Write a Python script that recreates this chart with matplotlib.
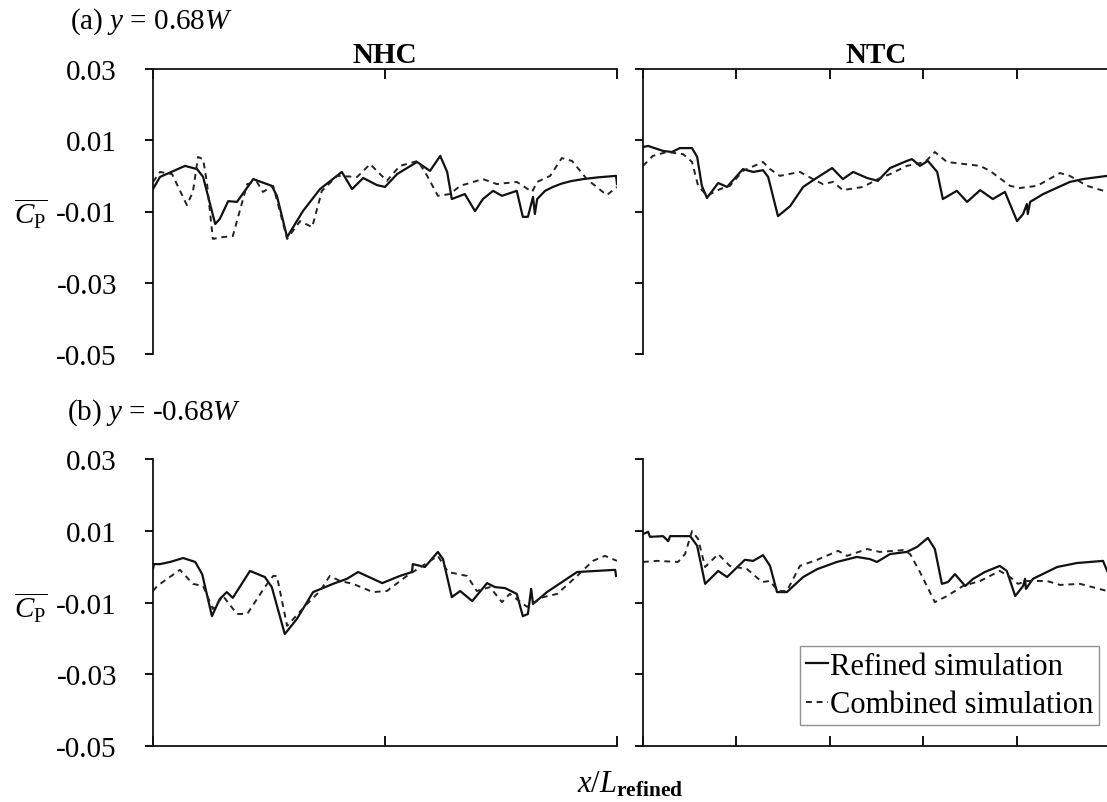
import matplotlib
matplotlib.use("Agg")
import matplotlib.pyplot as plt

plt.rcParams['font.family'] = ['Liberation Serif', 'DejaVu Serif']
plt.rcParams['mathtext.fontset'] = 'custom'
plt.rcParams['mathtext.rm'] = 'Liberation Serif'
plt.rcParams['mathtext.it'] = 'Liberation Serif:italic'
plt.rcParams['mathtext.bf'] = 'Liberation Serif:bold'
plt.rcParams['axes.unicode_minus'] = False

# ---- data (x/L, mean Cp) ----
# (a) y = 0.68W, NHC
a_nhc_ref_x = [0.0, 0.015, 0.069, 0.095, 0.108, 0.134, 0.144, 0.162, 0.181, 0.216, 0.256, 0.267, 0.289,
               0.323, 0.360, 0.407, 0.429, 0.453, 0.483, 0.500, 0.526, 0.569, 0.597, 0.619, 0.634, 0.644,
               0.672, 0.694, 0.711, 0.733, 0.752, 0.784, 0.797, 0.808, 0.819, 0.823, 0.828, 0.845, 0.862,
               0.88, 0.9, 0.927, 0.96, 0.998, 1.0]
a_nhc_ref_y = [-0.0037, -0.0003, 0.0028, 0.0019, -0.0003, -0.0135, -0.0121, -0.0071, -0.0073, -0.0009,
               -0.0028, -0.0056, -0.0172, -0.0099, -0.0037, 0.0011, -0.0037, -0.0006, -0.0026, -0.0031,
               0.0005, 0.0039, 0.0014, 0.0056, 0.0011, -0.0065, -0.0051, -0.0099, -0.0065, -0.0042,
               -0.0056, -0.0042, -0.0115, -0.0115, -0.0059, -0.0107, -0.0065, -0.0042, -0.0031, -0.0022,
               -0.0015, -0.0009, -0.0004, 0.0000, -0.0023]
a_nhc_com_x = [0.0, 0.015, 0.041, 0.073, 0.086, 0.097, 0.108, 0.116, 0.129, 0.149, 0.172, 0.203, 0.224,
               0.237, 0.259, 0.289, 0.317, 0.343, 0.364, 0.397, 0.440, 0.468, 0.504, 0.532, 0.571, 0.591,
               0.614, 0.640, 0.662, 0.711, 0.741, 0.784, 0.817, 0.828, 0.856, 0.881, 0.903, 0.935, 0.978, 1.0]
a_nhc_com_y = [-0.0017, 0.0011, 0.0005, -0.0082, -0.0045, 0.0053, 0.0047, -0.0017, -0.0177, -0.0172,
               -0.0169, -0.0023, -0.0017, -0.0045, -0.0028, -0.0177, -0.0127, -0.0144, -0.0042, 0.0000,
               -0.0003, 0.0033, -0.0014, 0.0028, 0.0042, 0.0000, -0.0056, -0.0051, -0.0028, -0.0009,
               -0.0023, -0.0017, -0.0045, -0.0017, 0.0000, 0.0050, 0.0042, -0.0009, -0.0054, -0.0031]

# (a) y = 0.68W, NTC
a_ntc_ref_x = [0.0, 0.011, 0.043, 0.062, 0.079, 0.105, 0.116, 0.126, 0.137, 0.161, 0.180, 0.214, 0.236,
               0.257, 0.268, 0.289, 0.315, 0.343, 0.368, 0.405, 0.428, 0.450, 0.480, 0.503, 0.529, 0.565,
               0.576, 0.593, 0.610, 0.630, 0.642, 0.672, 0.694, 0.722, 0.749, 0.775, 0.801, 0.814, 0.822,
               0.824, 0.829, 0.857, 0.914, 0.942, 0.994]
a_ntc_ref_y = [0.0081, 0.0084, 0.0070, 0.0067, 0.0078, 0.0078, 0.0053, -0.0028, -0.0062, -0.0020,
               -0.0031, 0.0019, 0.0011, 0.0016, -0.0003, -0.0113, -0.0085, -0.0031, -0.0009, 0.0022,
               -0.0009, 0.0011, -0.0006, -0.0014, 0.0022, 0.0042, 0.0047, 0.0028, 0.0042, 0.0011,
               -0.0065, -0.0042, -0.0073, -0.0040, -0.0065, -0.0045, -0.0127, -0.0107, -0.0079,
               -0.0107, -0.0073, -0.0051, -0.0017, -0.0009, 0.0000]
a_ntc_com_x = [0.0, 0.021, 0.051, 0.086, 0.105, 0.118, 0.137, 0.165, 0.186, 0.214, 0.257, 0.272, 0.293,
               0.336, 0.364, 0.385, 0.407, 0.428, 0.471, 0.503, 0.529, 0.565, 0.604, 0.625, 0.651, 0.722,
               0.743, 0.786, 0.807, 0.844, 0.893, 0.914, 0.951, 0.994]
a_ntc_com_y = [0.0028, 0.0056, 0.0067, 0.0061, 0.0039, -0.0028, -0.0056, -0.0037, -0.0028, 0.0014,
               0.0039, 0.0019, 0.0000, 0.0011, -0.0009, -0.0023, -0.0017, -0.0040, -0.0031, -0.0009,
               0.0005, 0.0028, 0.0039, 0.0067, 0.0039, 0.0028, 0.0014, -0.0028, -0.0034, -0.0028,
               0.0008, 0.0000, -0.0028, -0.0045]

# (b) y = -0.68W, NHC
b_nhc_ref_x = [0.0, 0.002, 0.015, 0.037, 0.065, 0.091, 0.106, 0.127, 0.144, 0.159, 0.172, 0.209, 0.241,
               0.256, 0.284, 0.310, 0.345, 0.388, 0.418, 0.442, 0.494, 0.532, 0.558, 0.560, 0.586, 0.614,
               0.625, 0.644, 0.662, 0.688, 0.720, 0.737, 0.759, 0.784, 0.797, 0.808, 0.815, 0.819, 0.849,
               0.914, 0.996, 0.998]
b_nhc_ref_y = [-0.0007, 0.0007, 0.0007, 0.0013, 0.0024, 0.0013, -0.0021, -0.0138, -0.0090, -0.0071,
               -0.0087, -0.0012, -0.0029, -0.0057, -0.0188, -0.0146, -0.0071, -0.0048, -0.0034, -0.0015,
               -0.0046, -0.0026, -0.0015, 0.0007, -0.0001, 0.0041, 0.0021, -0.0085, -0.0068, -0.0096,
               -0.0046, -0.0057, -0.0060, -0.0076, -0.0138, -0.0132, -0.0062, -0.0104, -0.0071, -0.0015,
               -0.0009, -0.0026]
b_nhc_com_x = [0.0, 0.009, 0.058, 0.086, 0.108, 0.129, 0.151, 0.181, 0.203, 0.241, 0.259, 0.267, 0.289,
               0.332, 0.360, 0.381, 0.403, 0.431, 0.474, 0.504, 0.547, 0.614, 0.636, 0.677, 0.698, 0.726,
               0.752, 0.769, 0.806, 0.841, 0.871, 0.914, 0.948, 0.974, 1.0]
b_nhc_com_y = [-0.0068, -0.0054, -0.0009, -0.0048, -0.0054, -0.0118, -0.0082, -0.0132, -0.0132, -0.0057,
               -0.0026, -0.0026, -0.0165, -0.0104, -0.0068, -0.0026, -0.0040, -0.0048, -0.0071, -0.0068,
               -0.0026, 0.0030, -0.0015, -0.0026, -0.0068, -0.0057, -0.0099, -0.0076, -0.0112, -0.0085,
               -0.0076, -0.0026, 0.0016, 0.0030, 0.0016]

# (b) y = -0.68W, NTC
b_ntc_ref_x = [0.0, 0.011, 0.015, 0.043, 0.054, 0.058, 0.101, 0.116, 0.133, 0.161, 0.180, 0.218, 0.236,
               0.257, 0.272, 0.287, 0.308, 0.343, 0.373, 0.415, 0.458, 0.486, 0.501, 0.529, 0.565, 0.587,
               0.610, 0.625, 0.640, 0.653, 0.668, 0.690, 0.707, 0.732, 0.764, 0.779, 0.797, 0.814, 0.818,
               0.820, 0.835, 0.887, 0.929, 0.985, 0.994]
b_ntc_ref_y = [0.0091, 0.0097, 0.0083, 0.0085, 0.0071, 0.0085, 0.0085, 0.0058, -0.0048, -0.0012,
               -0.0029, 0.0019, 0.0016, 0.0032, 0.0002, -0.0071, -0.0071, -0.0029, -0.0007, 0.0013,
               0.0027, 0.0021, 0.0013, 0.0035, 0.0041, 0.0055, 0.0080, 0.0049, -0.0048, -0.0043,
               -0.0021, -0.0054, -0.0034, -0.0015, 0.0002, -0.0012, -0.0082, -0.0054, -0.0034, -0.0062,
               -0.0034, -0.0001, 0.0010, 0.0016, -0.0012]
b_ntc_com_x = [0.0, 0.030, 0.075, 0.090, 0.105, 0.118, 0.133, 0.161, 0.186, 0.223, 0.255, 0.272, 0.289,
               0.308, 0.336, 0.373, 0.418, 0.437, 0.480, 0.507, 0.557, 0.572, 0.593, 0.625, 0.651, 0.685,
               0.722, 0.764, 0.786, 0.803, 0.822, 0.865, 0.893, 0.936, 0.994]
b_ntc_com_y = [0.0013, 0.0016, 0.0013, 0.0035, 0.0099, 0.0077, -0.0001, 0.0035, 0.0002, -0.0007,
               -0.0043, -0.0040, -0.0068, -0.0068, 0.0002, 0.0019, 0.0044, 0.0030, 0.0049, 0.0041,
               0.0046, 0.0035, -0.0015, -0.0099, -0.0082, -0.0054, -0.0040, -0.0012, -0.0029, -0.0048,
               -0.0040, -0.0040, -0.0051, -0.0048, -0.0068]

y_ticks = [-0.05, -0.03, -0.01, 0.01, 0.03]
y_tick_labels = ['-0.05', '-0.03', '-0.01', '0.01', '0.03']
col_titles = ['NHC', 'NTC']
row_labels = ['(a) $y$ = 0.68$W$', '(b) $y$ = -0.68$W$']
series_names = ['Refined simulation', 'Combined simulation']

FS = 21

fig = plt.figure(figsize=(11.07, 8.03), dpi=100)

W, H = 1107.0, 803.0
def box(x0, x1, y0, y1):
    return [x0 / W, 1 - y1 / H, (x1 - x0) / W, (y1 - y0) / H]

ax_a1 = fig.add_axes(box(153, 617, 70, 355))
ax_a2 = fig.add_axes(box(643, 1110, 70, 355))
ax_b1 = fig.add_axes(box(153, 617, 460, 747))
ax_b2 = fig.add_axes(box(643, 1110, 460, 747))

panels = [
    (ax_a1, a_nhc_ref_x, a_nhc_ref_y, a_nhc_com_x, a_nhc_com_y, 'top', True),
    (ax_a2, a_ntc_ref_x, a_ntc_ref_y, a_ntc_com_x, a_ntc_com_y, 'top', False),
    (ax_b1, b_nhc_ref_x, b_nhc_ref_y, b_nhc_com_x, b_nhc_com_y, 'bottom', True),
    (ax_b2, b_ntc_ref_x, b_ntc_ref_y, b_ntc_com_x, b_ntc_com_y, 'bottom', False),
]

for ax, rx, ry, cx, cy, xside, is_left in panels:
    ax.plot(rx, ry, color='#111111', lw=1.6, ls='-', label=series_names[0])
    ax.plot(cx, cy, color='#222222', lw=1.4, ls=(0, (3, 2.5)), label=series_names[1])
    ax.set_xlim(0, 1)
    ax.set_ylim(-0.05, 0.03)
    for s in ['top', 'bottom', 'right']:
        ax.spines[s].set_visible(False)
    ax.spines[xside].set_visible(True)
    for s in ax.spines.values():
        s.set_linewidth(1.3)
        s.set_color('#111111')
    ax.set_yticks(y_ticks)
    if is_left:
        ax.set_yticklabels(y_tick_labels, fontsize=FS)
        ax.set_xticks([0, 0.5, 1.0])
    else:
        ax.set_yticklabels([])
        ax.set_xticks([0, 0.2, 0.4, 0.6, 0.8, 1.0])
    ax.tick_params(axis='y', direction='out', length=6, width=1.3, pad=20)
    ax.tick_params(axis='x', direction='in', length=7, width=1.3,
                   top=(xside == 'top'), bottom=(xside == 'bottom'),
                   labeltop=False, labelbottom=False)

ax_a1.set_title(col_titles[0], fontsize=FS, fontweight='bold', pad=5)
ax_a2.set_title(col_titles[1], fontsize=FS, fontweight='bold', pad=5)

fig.text(70 / W, 1 - 22 / H, row_labels[0], fontsize=FS, va='center', ha='left')
fig.text(67 / W, 1 - 413 / H, row_labels[1], fontsize=FS, va='center', ha='left')

cp_label = r'$\overline{C_{\rm P}}$'
fig.text(14 / W, 1 - 213 / H, cp_label, fontsize=FS, va='center', ha='left')
fig.text(14 / W, 1 - 607 / H, cp_label, fontsize=FS, va='center', ha='left')

fig.text(630 / W, 1 - 785 / H, r'$x/L_{\mathbf{refined}}$', fontsize=22, va='center', ha='center')

leg = ax_b2.legend(loc='upper left', bbox_to_anchor=((800 - 643) / 467.0, 1 - (647 - 460) / 287.0),
                   fontsize=22, frameon=True, fancybox=False, handlelength=0.7, handletextpad=0.08,
                   borderpad=0.2, labelspacing=0.3, borderaxespad=0)
leg.get_frame().set_edgecolor('#777777')
leg.get_frame().set_linewidth(1.0)

fig.savefig('out.png', dpi=100)
